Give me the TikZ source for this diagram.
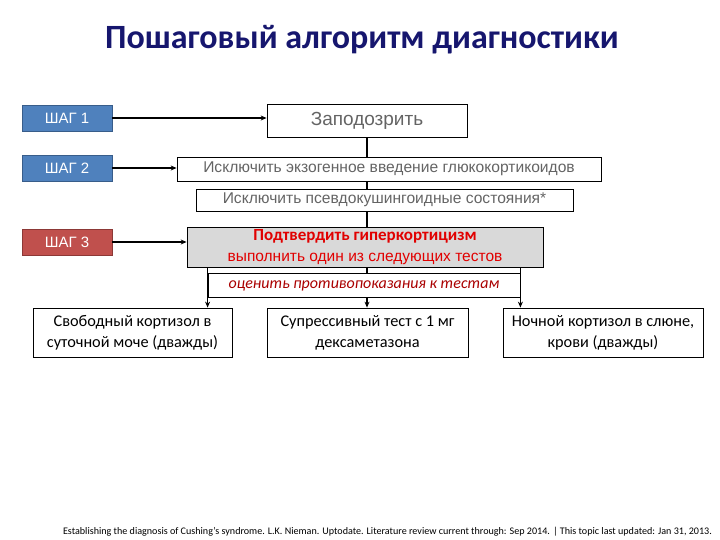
\documentclass[tikz,border=0pt]{standalone}
\usepackage{fontspec}
\setmainfont{Carlito}
\newfontfamily\arialfont{Liberation Sans}
\usetikzlibrary{arrows.meta}
\definecolor{titleblue}{RGB}{22,22,110}
\definecolor{shagblue}{RGB}{79,129,189}
\definecolor{shagblueline}{RGB}{56,93,138}
\definecolor{shagred}{RGB}{192,80,77}
\definecolor{shagredline}{RGB}{140,56,54}
\definecolor{boxtext}{RGB}{100,100,100}
\definecolor{confirmred}{RGB}{225,0,0}
\definecolor{contrared}{RGB}{170,0,0}
\definecolor{confirmgray}{RGB}{217,217,217}
\newcommand{\fs}[1]{\fontsize{#1}{1.25\dimexpr#1pt\relax}\selectfont}
\begin{document}
\begin{tikzpicture}[x=1pt,y=-1pt,
    shagbox/.style={rectangle,minimum width=90pt,minimum height=26pt,inner sep=0pt,
        text=white,font=\arialfont\fs{15}},
    greybox/.style={draw,rectangle,inner sep=0pt,line width=0.8pt,text=boxtext,
        font=\arialfont\fs{15.6}},
    testbox/.style={draw,rectangle,inner sep=0pt,line width=0.8pt,minimum height=49pt,
        align=center,font=\fontsize{16.3}{21}\selectfont},
    link/.style={line width=1.3pt,-{Stealth[length=6pt,width=5pt]}},
    trunk/.style={line width=1.3pt}]
    \useasboundingbox (0,0) rectangle (720,540);
    %title
    \node (title) at (362,40) {\textcolor{titleblue}{\bfseries\fs{34}Пошаговый алгоритм диагностики}};
    %steps
    \node[shagbox,fill=shagblue,draw=shagblueline] (shag1) at (67,118) {ШАГ 1};
    \node[shagbox,fill=shagblue,draw=shagblueline] (shag2) at (67,168) {ШАГ 2};
    \node[shagbox,fill=shagred,draw=shagredline] (shag3) at (67,242) {ШАГ 3};
    %main boxes
    \node[greybox,minimum width=200pt,minimum height=33pt,font=\arialfont\fs{19}] (suspect) at (367,120.5) {Заподозрить};
    \node[greybox,minimum width=424pt,minimum height=24pt] (exogen) at (389,169) {Исключить экзогенное введение глюкокортикоидов};
    \node[greybox,minimum width=377pt,minimum height=22pt] (pseudo) at (384.5,200) {Исключить псевдокушингоидные состояния*};
    \node[draw,fill=confirmgray,line width=0.8pt,minimum width=356pt,minimum height=40pt,inner sep=0pt,
        align=center,text=confirmred,font=\fontsize{16}{21}\selectfont] (confirm) at (365,247)
        {{\bfseries\fs{17}Подтвердить гиперкортицизм}\\{\arialfont\fs{15.5}выполнить один из следующих тестов}};
    %tests
    \node[testbox,minimum width=199pt] (urine) at (132.5,332.5) {Свободный кортизол в\\суточной моче (дважды)};
    \node[testbox,minimum width=201pt] (dexa) at (367.5,332.5) {Супрессивный тест с 1 мг\\дексаметазона};
    \node[testbox,minimum width=200pt] (saliva) at (603,332.5) {Ночной кортизол в слюне,\\крови (дважды)};
    %draw lines
    \draw[link] (shag1.east) -- (shag1.east -| suspect.west);
    \draw[link] (shag2.east) -- (shag2.east -| exogen.west);
    \draw[link] (shag3.east) -- (shag3.east -| confirm.west);
    \draw[trunk,line width=2pt] (suspect.south) -- (suspect.south |- exogen.north);
    \draw[trunk] (suspect.south |- exogen.south) -- (suspect.south |- pseudo.north);
    \draw[trunk] (suspect.south |- pseudo.south) -- (suspect.south |- confirm.north);
    \draw[link] (suspect.south |- confirm.south) -- (suspect.south |- dexa.north);
    \node[draw,fill=white,line width=0.8pt,minimum width=312pt,minimum height=24pt,inner sep=0pt,
        text=contrared,font=\itshape\fs{16}] (contra) at (364,285.5) {оценить противопоказания к тестам};
    \draw[link] (contra.west |- confirm.south) -- (contra.west |- urine.north);
    \draw[link] (contra.east |- confirm.south) -- (contra.east |- saliva.north);
    %source
    \node (source) at (387.5,532) {\fs{10.1}Establishing the diagnosis of Cushing's syndrome. L.K. Nieman. Uptodate. Literature review current through: Sep 2014. | This topic last updated: Jan 31, 2013.};
\end{tikzpicture}
\end{document}
